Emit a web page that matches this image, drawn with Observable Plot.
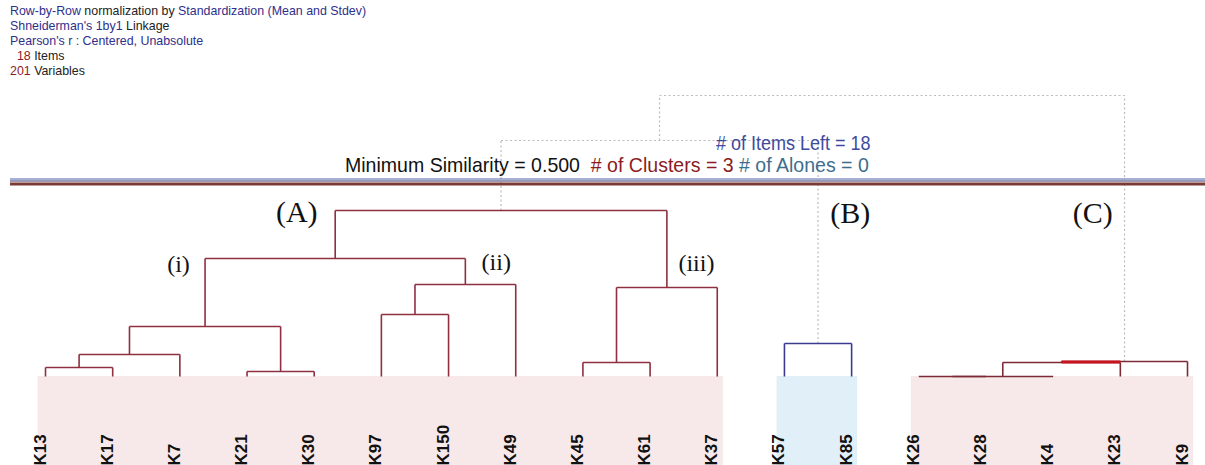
<!DOCTYPE html>
<html><head><meta charset="utf-8">
<script src="https://cdn.jsdelivr.net/npm/d3@7"></script>
<script src="https://cdn.jsdelivr.net/npm/@observablehq/plot@0.6"></script>
<style>
body{margin:0;background:#fff;}
#wrap{position:relative;width:1205px;height:465px;overflow:hidden;background:#fff;}
#info{position:absolute;left:10px;top:4px;font:12.4px "Liberation Sans",Arial,sans-serif;line-height:15px;color:#222;white-space:nowrap;}
#info .b{color:#2f2f8c}
#info .r{color:#8b1c24}
.hdr{position:absolute;font-family:"Liberation Sans",Arial,sans-serif;transform-origin:0 0;white-space:nowrap;}
#stats{left:345px;top:154px;color:#111;font-size:21px;line-height:21px;transform:scaleX(0.93);}
#stats .r{color:#8b1c24}
#stats .t{color:#3d6e8e}
#left{left:716px;top:133px;color:#3d4a9e;font-size:20px;line-height:20px;transform:scaleX(0.9);}
#chart{position:absolute;left:0;top:0;}
</style>
</head><body>
<div id="wrap">
  <div id="chart"></div>
  <div id="info">
    <div><span class="b">Row-by-Row</span> normalization by <span class="b">Standardization (Mean and Stdev)</span></div>
    <div><span class="b">Shneiderman's 1by1</span> Linkage</div>
    <div><span class="b">Pearson's r : Centered, Unabsolute</span></div>
    <div>&nbsp;&nbsp;<span class="r">18</span> Items</div>
    <div><span class="r">201</span> Variables</div>
  </div>
  <div id="stats" class="hdr">Minimum Similarity = 0.500 &nbsp;<span class="r"># of Clusters = 3</span> <span class="t"># of Alones = 0</span></div>
  <div id="left" class="hdr"># of Items Left = 18</div>
</div>
<script>
// ---- data ----
const leaves = ["K13","K17","K7","K21","K30","K97","K150","K49","K45","K61","K37","K57","K85","K26","K28","K4","K23","K9"];
const nodeIds    = ["n0","n1","n2","n3","n4","n5","n6","n7","n8","n9","n10","n11","n12","n13","n14","n15","n16"];
const nodeLeft   = ["K13","n0","K21","n1","K97","n4","n3","K45","n7","n6","K57","K26","n11","n12","n13","n9","n15"];
const nodeRight  = ["K17","K7","K30","n2","K150","K49","n5","K61","K37","n8","K85","K28","K4","K23","K9","n10","n14"];
const nodeHeight = [9,22,5,50,62,92,118,14,89,166,33,0,0,14,15,236,281];
const nodeGroup  = ["A","A","A","A","A","A","A","A","A","A","B","C","C","C","C","join","join"];
const cutHeight = 194;
const clusterNames = ["A","B","C"];
const clusterFirst = [0,11,13];
const clusterLast  = [10,12,17];
const annoText = ["(A)","(B)","(C)","(i)","(ii)","(iii)"];
const annoX    = [3.74,11.98,15.59,1.98,6.71,9.69];
const annoH    = [164,163,163,112,114,113];
const annoSize = [30,30,30,24,24,24];

const groupStroke = {A:"#8e3040", B:"#3b3b8e", C:"#7c2a35", join:"#bcbcbc"};
const bandFill = {A:"#f7e8ea", B:"#e1eff9", C:"#f7e8ea"};

// ---- build tree geometry (in data units) ----
const pos = new Map();
leaves.forEach((l,i)=>pos.set(l,{x:i,h:0}));
nodeIds.forEach((id,k)=>{
  const a=pos.get(nodeLeft[k]), b=pos.get(nodeRight[k]);
  pos.set(id,{x:(a.x+b.x)/2,h:nodeHeight[k],left:a,right:b,g:nodeGroup[k]});
});
const segs=[];
const highlights=[];
nodeIds.forEach((id,k)=>{
  const n=pos.get(id);
  const dashed=n.h>cutHeight;
  const c=groupStroke[n.g];
  segs.push({x1:n.left.x,y1:n.h,x2:n.right.x,y2:n.h,c,dashed});
  if(n.left.h!==n.h) segs.push({x1:n.left.x,y1:n.left.h,x2:n.left.x,y2:n.h,c,dashed});
  if(n.right.h!==n.h) segs.push({x1:n.right.x,y1:n.right.h,x2:n.right.x,y2:n.h,c,dashed});
  // overlapping horizontals of near-equal merges
  if(!dashed && n.left.right && n.left.h>0 && Math.abs(n.left.h-n.h)<=2){
    highlights.push({x1:n.left.x,x2:n.left.right.x,y:(n.left.h+n.h)/2});
  }
});
const bands = clusterNames.map((nm,i)=>({nm,x1:clusterFirst[i]-0.11,x2:clusterLast[i]+0.09,fill:bandFill[nm]}));
const annos = annoText.map((t,i)=>({t,x:annoX[i],h:annoH[i],s:annoSize[i]}));

const plot = Plot.plot({
  width:1205, height:465,
  marginLeft:10, marginRight:0, marginTop:0, marginBottom:0,
  x:{domain:[0,17], range:[45,1187], axis:null},
  y:{domain:[-89,281], range:[465,95], axis:null},
  color:{type:"identity"},
  style:{background:"transparent"},
  marks:[
    Plot.rect(bands,{x1:"x1",x2:"x2",y1:0,y2:-89,fill:"fill"}),
    Plot.link(segs.filter(d=>d.dashed),{x1:"x1",y1:"y1",x2:"x2",y2:"y2",stroke:"c",strokeWidth:1.2,strokeDasharray:"2,2.5"}),
    Plot.ruleY([cutHeight],{stroke:"#4f63b0",strokeWidth:1,dy:-3.5}),
    Plot.ruleY([cutHeight],{stroke:"#9a98b2",strokeWidth:2,dy:-1.5}),
    Plot.ruleY([cutHeight],{stroke:"#7b3a33",strokeWidth:3,dy:1.5}),
    Plot.link(segs.filter(d=>!d.dashed),{x1:"x1",y1:"y1",x2:"x2",y2:"y2",stroke:"c",strokeWidth:1.6}),
    Plot.link(highlights,{x1:"x1",x2:"x2",y1:"y",y2:"y",stroke:"#c8141e",strokeWidth:3}),
    Plot.text(annos,{x:"x",y:"h",text:"t",fontSize:"s",fontFamily:"Liberation Serif, Times New Roman, serif",fill:"#111"}),
    Plot.text(leaves,{x:(d,i)=>i,frameAnchor:"bottom",text:d=>d,rotate:-90,textAnchor:"start",dy:0,fontSize:17,fontWeight:"bold",fontFamily:"Liberation Sans, Arial, sans-serif",fill:"#111"})
  ]
});
document.getElementById("chart").appendChild(plot);
</script>
</body></html>
